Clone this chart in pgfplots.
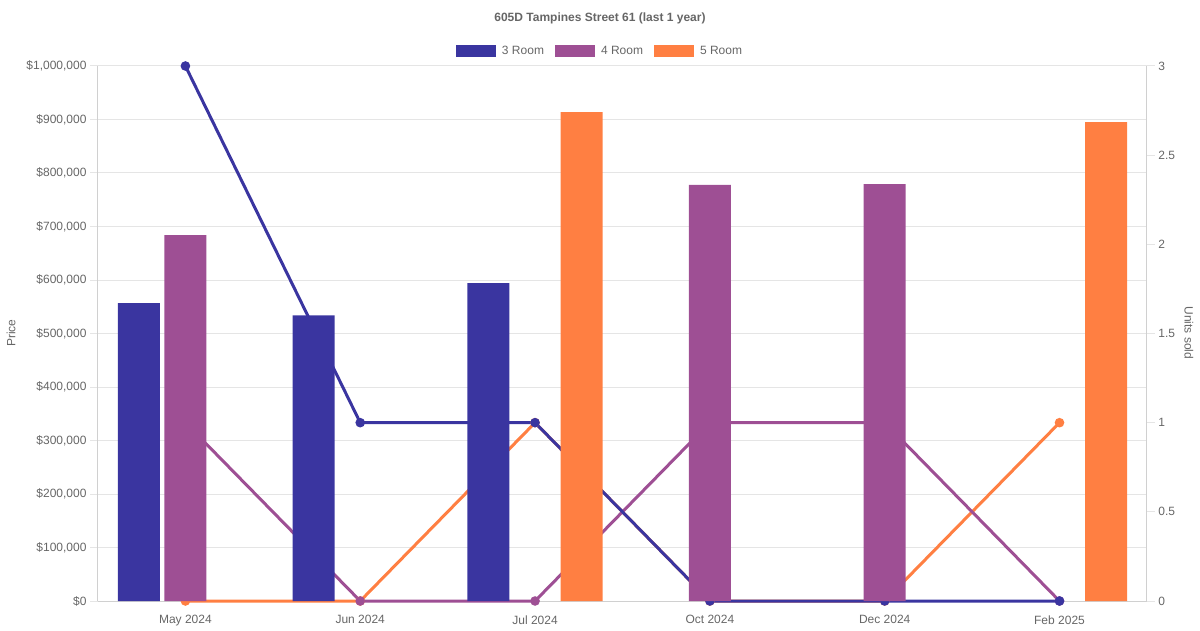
\documentclass[border=0pt]{standalone}
\usepackage{pgfplots}
\pgfplotsset{compat=1.18}
\usepackage{fontspec}
\setmainfont{Liberation Sans}
\definecolor{c3}{HTML}{3A35A0}
\definecolor{c4}{HTML}{9E4F94}
\definecolor{c5}{HTML}{FF7F42}
\definecolor{txt}{HTML}{666666}
\definecolor{gridc}{HTML}{E5E5E5}
\definecolor{axc}{HTML}{D0D0D0}
\pgfplotsset{
  base/.style={
    at={(0pt,0pt)}, anchor=south west,
    scale only axis, width=1049pt, height=535pt,
    xmin=-0.5, xmax=5.5,
    tick label style={font=\fontsize{12}{14}\selectfont, text=txt},
    /pgf/number format/assume math mode=true,
  }
}
\begin{document}
\begin{tikzpicture}
\useasboundingbox (-98pt,-29pt) rectangle (1102pt,601pt);
% axis 1: grid, left axis, category labels
\begin{axis}[base,
  ymin=0, ymax=1000000,
  axis x line*=bottom, axis y line*=left,
  axis line style={-, draw=axc, line width=1pt},
  xtick={0,1,2,3,4,5},
  xticklabels={May 2024, Jun 2024, Jul 2024, Oct 2024, Dec 2024, Feb 2025},
  x tick style={draw=none},
  xticklabel style={yshift=-3pt},
  ytick={0,100000,200000,300000,400000,500000,600000,700000,800000,900000,1000000},
  scaled y ticks=false,
  yticklabel={\$\pgfmathprintnumber[fixed,precision=0,1000 sep={,},assume math mode=true]{\tick}},
  ymajorgrids, grid style={gridc, line width=1pt},
  y tick style={draw=gridc, line width=1pt},
  tick align=outside, major tick length=8pt,
]
\end{axis}
% axis 2: units sold lines (right axis)
\begin{axis}[base,
  ymin=0, ymax=3,
  axis x line=none, axis y line*=right,
  axis line style={-, draw=axc, line width=1pt},
  ytick={0,0.5,1,1.5,2,2.5,3},
  y tick style={draw=gridc, line width=1pt},
  tick align=outside, major tick length=8pt,
  clip=false,
  every axis plot/.append style={line width=3pt, mark=*, mark size=3.2pt},
]
\addplot[c5, mark options={draw=none, fill=c5}] coordinates {(0,0) (1,0) (2,1) (3,0) (4,0) (5,1)};
\addplot[c4, mark options={draw=none, fill=c4}] coordinates {(0,1) (1,0) (2,0) (3,1) (4,1) (5,0)};
\addplot[c3, mark options={draw=none, fill=c3}] coordinates {(0,3) (1,1) (2,1) (3,0) (4,0) (5,0)};
\end{axis}
% axis 3: price bars
\begin{axis}[base,
  ymin=0, ymax=1000000,
  hide axis,
  ybar, bar width=0.24,
  legend columns=3,
  legend style={draw=none, fill=none, at={(0.4786,1.028)}, anchor=center,
    font=\fontsize{12}{14}\selectfont, text=txt,
    /tikz/every odd column/.append style={column sep=4pt},
    /tikz/every even column/.append style={column sep=9pt}},
]
\addplot[fill=c3, draw=none, bar shift=-0.2667,
  legend image code/.code={\fill[c3] (0pt,-6pt) rectangle (40pt,6pt);}]
  coordinates {(0,557000) (1,534000) (2,594000)};
\addplot[fill=c4, draw=none, bar shift=0,
  legend image code/.code={\fill[c4] (0pt,-6pt) rectangle (40pt,6pt);}]
  coordinates {(0,684000) (3,778000) (4,779000)};
\addplot[fill=c5, draw=none, bar shift=0.2667,
  legend image code/.code={\fill[c5] (0pt,-6pt) rectangle (40pt,6pt);}]
  coordinates {(2,914000) (5,895000)};
\legend{3 Room, 4 Room, 5 Room}
\end{axis}
\node[rotate=90, font=\fontsize{12}{14}\selectfont, text=txt] at (-87pt,268pt) {Price};
\node[rotate=-90, font=\fontsize{12}{14}\selectfont, text=txt] at (1091pt,268pt) {Units sold};
\node[font=\fontsize{12}{14}\selectfont\bfseries, text=txt] at (502pt,583pt) {605D Tampines Street 61 (last 1 year)};
\end{tikzpicture}
\end{document}
